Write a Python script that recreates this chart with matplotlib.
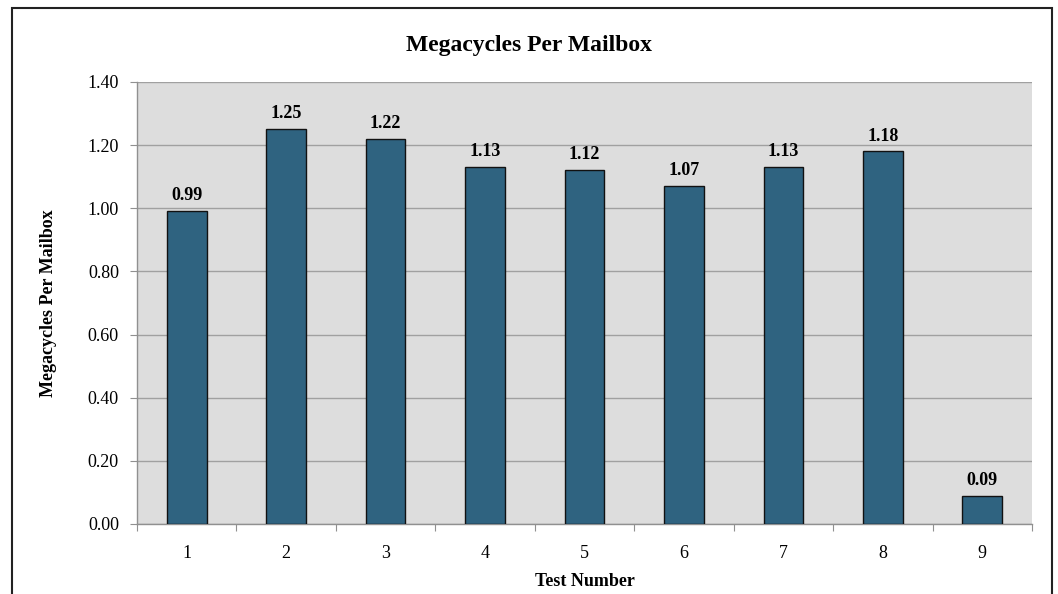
#!/usr/bin/env python3
"""
Bar chart: Megacycles Per Mailbox by test number
"""

import matplotlib.pyplot as plt
from matplotlib.patches import Rectangle

# --- Data ---
tests = [1, 2, 3, 4, 5, 6, 7, 8, 9]
megacycles = [0.99, 1.25, 1.22, 1.13, 1.12, 1.07, 1.13, 1.18, 0.09]

plt.rcParams["font.family"] = ["Liberation Serif", "DejaVu Serif"]

fig = plt.figure(figsize=(10.58, 5.94), dpi=100)
W, H = 1058, 594
ax = fig.add_axes([137 / W, 1 - 524 / H, (1032 - 137) / W, (524 - 82) / H])

# Outer chart frame (bottom edge runs off the image)
fig.patches.append(Rectangle((12 / W, -0.05), (1052 - 12) / W, 1 - 8 / H + 0.05,
                             transform=fig.transFigure, fill=False,
                             edgecolor="#222222", linewidth=1.5))

ax.set_facecolor("#DDDDDD")
ax.bar(tests, megacycles, width=0.4, color="#2F6380", edgecolor="#111111",
       linewidth=1.0, zorder=3)

for x, y in zip(tests, megacycles):
    ax.annotate(f"{y:.2f}", xy=(x, y), xytext=(0, 5), textcoords="offset points",
                ha="center", va="bottom", fontsize=13, fontweight="bold")

ax.set_xlim(0.5, 9.5)
ax.set_ylim(0, 1.4)
ax.set_yticks([i * 0.2 for i in range(8)])
ax.set_yticklabels([f"{i * 0.2:.2f}" for i in range(8)])
ax.yaxis.grid(True, color="#A0A0A0", linewidth=1.0, zorder=0)
ax.set_axisbelow(True)

# category ticks between bars, labels centred under bars
ax.set_xticks([t + 0.5 for t in tests[:-1]] + [0.5, 9.5])
ax.set_xticklabels([])
ax.set_xticks(tests, minor=True)
ax.set_xticklabels([str(t) for t in tests], minor=True)
ax.tick_params(axis="x", which="minor", length=0, pad=15, labelsize=13)
ax.tick_params(axis="x", which="major", length=5, color="#909090", direction="out")
ax.tick_params(axis="y", length=5, color="#909090", labelsize=13, pad=8)

for side in ["top", "right"]:
    ax.spines[side].set_visible(False)
for side in ["left", "bottom"]:
    ax.spines[side].set_color("#909090")
    ax.spines[side].set_linewidth(1.0)

ax.set_xlabel("Test Number", fontsize=13, fontweight="bold", labelpad=8)
ax.set_ylabel("Megacycles Per Mailbox", fontsize=13, fontweight="bold", labelpad=22)
fig.text(0.5, 1 - 45 / H, "Megacycles Per Mailbox",
         ha="center", va="center", fontsize=17, fontweight="bold")

fig.savefig("out.png", dpi=100, facecolor="white")
plt.close()
